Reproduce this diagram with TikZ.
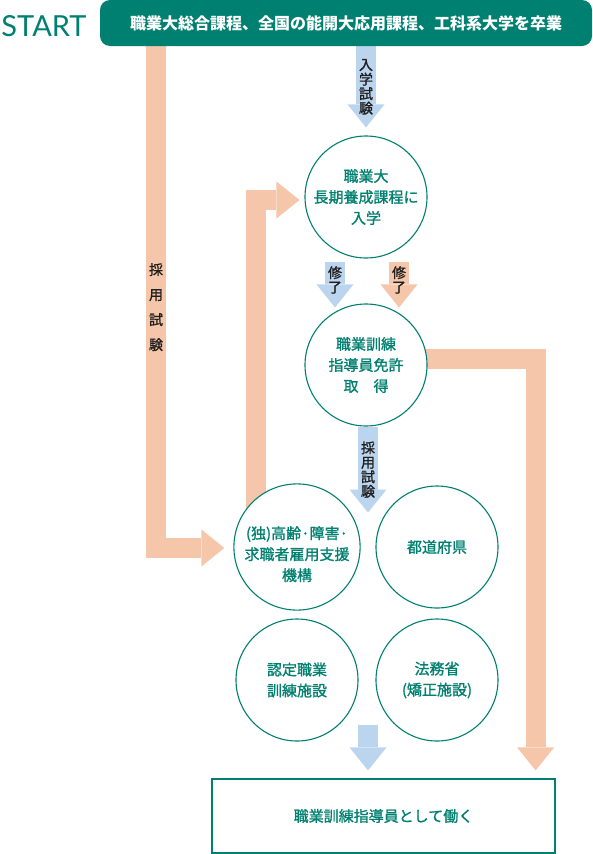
\documentclass[tikz,border=0pt]{standalone}
\usepackage{fontspec}
\usetikzlibrary{arrows.meta,backgrounds,positioning}
\newfontfamily\jpfont{Noto Sans CJK JP}
\newfontfamily\jpmed{Noto Sans CJK JP}[BoldFont=Noto Sans CJK JP,
  BoldFeatures={FakeBold=1.2}]
\newfontfamily\startfont{Lato}
\definecolor{teal1}{RGB}{0,128,112}
\definecolor{orangebar}{RGB}{246,198,170}
\definecolor{bluebar}{RGB}{188,213,239}
\definecolor{labelgray}{RGB}{30,30,30}

\begin{document}
\begin{tikzpicture}[x=1pt,y=-1pt,
  banner/.style={fill=teal1, rounded corners=10pt, minimum width=492pt,
    minimum height=46pt, inner sep=0pt, text=white,
    font=\jpfont\bfseries\fontsize{16}{16}\selectfont},
  circ/.style={circle, draw=teal1, line width=1.1pt, fill=white,
    minimum size=122pt, inner sep=0pt, align=center, text=teal1,
    font=\jpmed\bfseries\fontsize{15}{21}\selectfont},
  obar/.style={draw=orangebar, line width=20pt, line join=miter,
    -{Triangle[length=23pt,width=37pt,line width=0pt]}},
  bbar/.style={obar, draw=bluebar},
  lbl/.style={align=center, text=labelgray, inner sep=0pt,
    font=\jpmed\bfseries\fontsize{14}{14.5}\selectfont}]

  \useasboundingbox (0,0) rectangle (592,854);

  % start banner
  \node[font=\startfont\fontsize{29}{29}\selectfont, text=teal1, inner sep=0pt]
    (start) at (44,26) {START};
  \node[banner] (top) at (346,23) {職業大総合課程、全国の能開大応用課程、工科系大学を卒業};

  % circles
  \node[circ] (c1) at (366,197) {職業大\\長期養成課程に\\入学};
  \node[circ] (c2) at (366,365) {職業訓練\\指導員免許\\取　得};
  \node[circ] (c3) at (297,547) {\rule{0pt}{27pt}(独)高齢·障害·\\求職者雇用支援\\機構};
  \node[circ] (c4) at (437,547) {都道府県};
  \node[circ] (c5) at (297,680) {認定職業\\訓練施設};
  \node[circ] (c6) at (437,680) {法務省\\(矯正施設)};

  % goal box
  \node[draw=teal1, line width=1.2pt, minimum width=343pt, minimum height=74pt,
    inner sep=0pt, text=teal1, font=\jpmed\bfseries\fontsize{15}{15}\selectfont]
    (goal) at (383.5,816) {職業訓練指導員として働く};

  \coordinate (L) at (156,0);
  \coordinate (G) at (368,725);
  \coordinate (G2) at ([yshift=8pt]goal.north);

  \begin{scope}[on background layer]
    % entrance exam
    \draw[bbar] (top.south -| c1) -- node[lbl]{入\\学\\試\\験} ([yshift=8pt]c1.north);

    % completion
    \draw[bbar] ([xshift=-31pt,yshift=-3pt]c1.south) -- node[lbl,pos=0.4]{修\\了}
      ([xshift=-31pt,yshift=-4pt]c2.north);
    \draw[obar] ([xshift=33pt,yshift=-3pt]c1.south) -- node[lbl,pos=0.4]{修\\了}
      ([xshift=33pt,yshift=-4pt]c2.north);

    % recruitment exam
    \draw[bbar] ([xshift=2pt]c2.south) -- node[lbl]{採\\用\\試\\験}
      ([xshift=2pt,yshift=-86pt]c2.south);

    % left bar
    \draw[obar] (top.south -| L) |- node[lbl,pos=0.26,
      font=\jpmed\bfseries\fontsize{14}{25}\selectfont]{採\\用\\試\\験}
      ([xshift=-9pt,yshift=-1pt]c3.west);

    % back to c1
    \draw[obar] ([xshift=-41pt]c3.center) |- ([xshift=-5pt,yshift=-3pt]c1.west);

    % right bar
    \draw[obar] ([yshift=6pt]c2.center) -| ([xshift=-20pt,yshift=8pt]goal.north east);

    % to goal
    \draw[bbar] (G) -- (G |- G2);
  \end{scope}
\end{tikzpicture}
\end{document}
